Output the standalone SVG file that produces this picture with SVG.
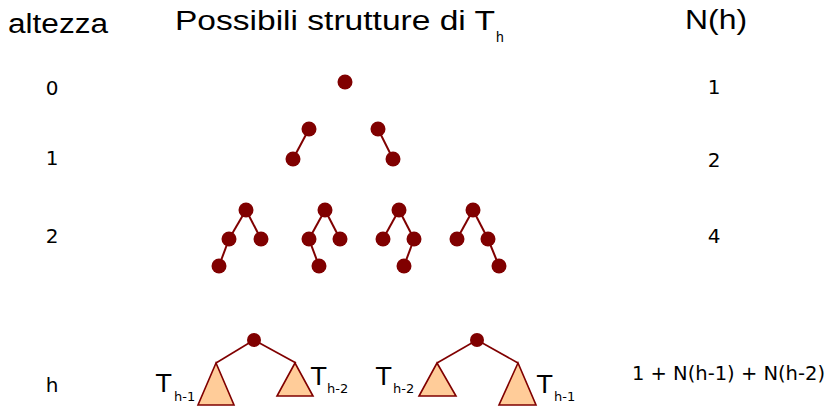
<svg xmlns="http://www.w3.org/2000/svg" width="830" height="406" viewBox="0 0 830 406">
<style>
.hd{font-family:"Liberation Sans","DejaVu Sans",sans-serif;font-size:27px;fill:#000}
.sub{font-family:"Liberation Sans","DejaVu Sans",sans-serif;font-size:14px;fill:#000}
.num{font-family:"DejaVu Sans","Liberation Sans",sans-serif;font-size:20px;fill:#000;text-anchor:middle}
.lbl{font-family:"DejaVu Sans","Liberation Sans",sans-serif;fill:#000}
.t{font-size:25px}
.s{font-size:13px}
.n{fill:#800000}
.e{stroke:#800000;stroke-width:2;fill:none}
.eh{stroke:#800000;stroke-width:1.6;fill:none}
.tri{fill:#FFCC99;stroke:#800000;stroke-width:1.6;stroke-linejoin:miter}
</style>
<rect width="830" height="406" fill="#fff"/>
<g id="headers">
<text class="hd" x="8" y="33" textLength="100" lengthAdjust="spacingAndGlyphs">altezza</text>
<text class="hd" x="175" y="30" textLength="320" lengthAdjust="spacingAndGlyphs">Possibili strutture di T</text>
<text class="sub" x="496" y="42">h</text>
<text class="hd" x="685" y="29" textLength="62" lengthAdjust="spacingAndGlyphs">N(h)</text>
</g>
<g id="heights">
<text class="num" x="52" y="95">0</text>
<text class="num" x="52" y="165">1</text>
<text class="num" x="52" y="243">2</text>
<text class="num" x="52" y="392">h</text>
</g>
<g id="counts">
<text class="num" x="714" y="94">1</text>
<text class="num" x="714" y="167">2</text>
<text class="num" x="714" y="243">4</text>
<text class="lbl" x="632" y="380" font-size="20" textLength="193" lengthAdjust="spacingAndGlyphs">1 + N(h-1) + N(h-2)</text>
</g>
<g id="connectors">
<line class="e" x1="309" y1="129" x2="293" y2="159"/>
<line class="e" x1="378" y1="129" x2="393" y2="159"/>
<line class="e" x1="246" y1="210" x2="229" y2="239"/>
<line class="e" x1="246" y1="210" x2="261" y2="239"/>
<line class="e" x1="229" y1="239" x2="219" y2="266"/>
<line class="e" x1="325" y1="210" x2="309" y2="239"/>
<line class="e" x1="325" y1="210" x2="340" y2="239"/>
<line class="e" x1="309" y1="239" x2="319" y2="266"/>
<line class="e" x1="399" y1="210" x2="383" y2="239"/>
<line class="e" x1="399" y1="210" x2="414" y2="239"/>
<line class="e" x1="414" y1="239" x2="404" y2="266"/>
<line class="e" x1="473" y1="210" x2="457" y2="239"/>
<line class="e" x1="473" y1="210" x2="488" y2="239"/>
<line class="e" x1="488" y1="239" x2="499" y2="266"/>
<line class="eh" x1="254" y1="340" x2="216" y2="363"/>
<line class="eh" x1="254" y1="340" x2="296" y2="363"/>
<line class="eh" x1="477" y1="340" x2="437" y2="363"/>
<line class="eh" x1="477" y1="340" x2="518" y2="363"/>
</g>
<g id="h0"><circle class="n" cx="345" cy="82" r="7.5"/></g>
<g id="h1a"><circle class="n" cx="309" cy="129" r="7.5"/><circle class="n" cx="293" cy="159" r="7.5"/></g>
<g id="h1b"><circle class="n" cx="378" cy="129" r="7.5"/><circle class="n" cx="393" cy="159" r="7.5"/></g>
<g id="h2a"><circle class="n" cx="246" cy="210" r="7.5"/><circle class="n" cx="229" cy="239" r="7.5"/><circle class="n" cx="261" cy="239" r="7.5"/><circle class="n" cx="219" cy="266" r="7.5"/></g>
<g id="h2b"><circle class="n" cx="325" cy="210" r="7.5"/><circle class="n" cx="309" cy="239" r="7.5"/><circle class="n" cx="340" cy="239" r="7.5"/><circle class="n" cx="319" cy="266" r="7.5"/></g>
<g id="h2c"><circle class="n" cx="399" cy="210" r="7.5"/><circle class="n" cx="383" cy="239" r="7.5"/><circle class="n" cx="414" cy="239" r="7.5"/><circle class="n" cx="404" cy="266" r="7.5"/></g>
<g id="h2d"><circle class="n" cx="473" cy="210" r="7.5"/><circle class="n" cx="457" cy="239" r="7.5"/><circle class="n" cx="488" cy="239" r="7.5"/><circle class="n" cx="499" cy="266" r="7.5"/></g>
<g id="hA">
<circle class="n" cx="254" cy="340" r="7"/>
<polygon class="tri" points="216,363 198,405 234,405"/>
<polygon class="tri" points="295,363 277,396 313,396"/>
<text class="lbl t" x="156" y="392">T</text>
<text class="lbl s" x="174" y="401">h-1</text>
<text class="lbl t" x="311" y="385">T</text>
<text class="lbl s" x="327" y="393">h-2</text>
</g>
<g id="hB">
<circle class="n" cx="477" cy="340" r="7"/>
<polygon class="tri" points="437,363 419,396 456,396"/>
<polygon class="tri" points="518,363 499,405 536,405"/>
<text class="lbl t" x="376" y="385">T</text>
<text class="lbl s" x="393" y="393">h-2</text>
<text class="lbl t" x="537" y="393">T</text>
<text class="lbl s" x="554" y="401">h-1</text>
</g>
</svg>
